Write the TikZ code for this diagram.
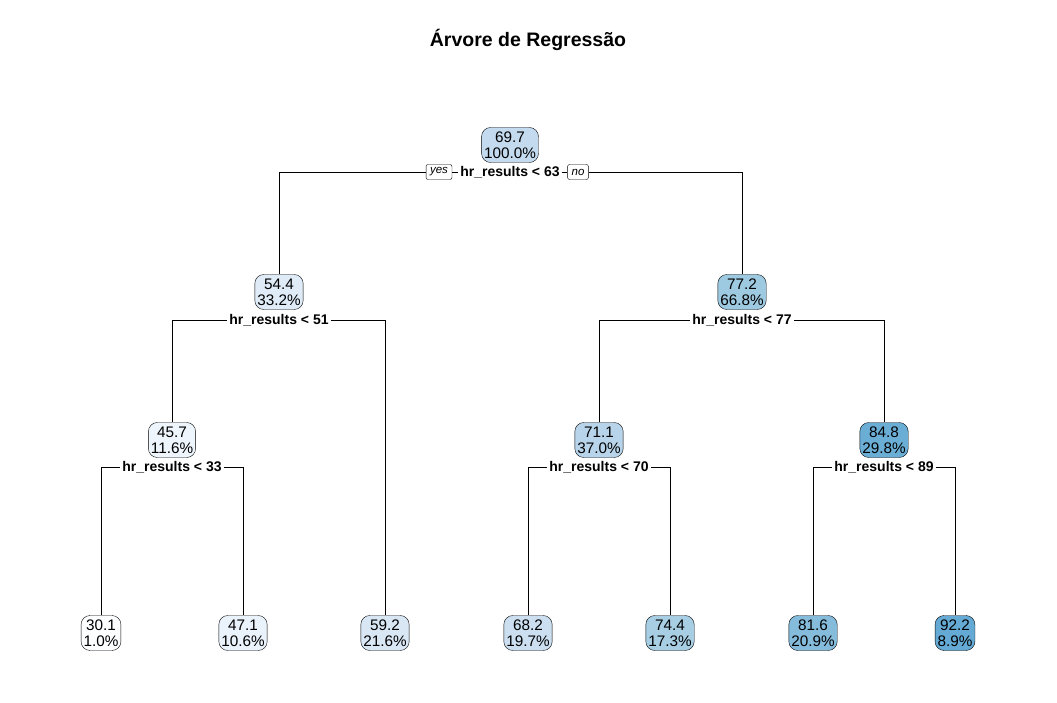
\documentclass[tikz,border=0pt]{standalone}
\usepackage{fontspec}
\setmainfont{Liberation Sans}
\definecolor{bA}{HTML}{FDFEFF}
\definecolor{bB}{HTML}{EEF5FC}
\definecolor{bC}{HTML}{EAF2FB}
\definecolor{bD}{HTML}{DFEBF7}
\definecolor{bE}{HTML}{D9E7F5}
\definecolor{bF}{HTML}{CCDFF1}
\definecolor{bG}{HTML}{C4DAEE}
\definecolor{bH}{HTML}{B7D4EA}
\definecolor{bI}{HTML}{A8CEE4}
\definecolor{bJ}{HTML}{9ECAE1}
\definecolor{bK}{HTML}{85BCDC}
\definecolor{bL}{HTML}{6AAED6}
\definecolor{bM}{HTML}{65AAD4}

\begin{document}
\begin{tikzpicture}[x=1pt,y=-1pt]
  \tikzset{box/.style={draw,rounded corners=9pt,align=center,inner xsep=2.5pt,inner ysep=3pt,
      minimum height=35pt,font=\fontsize{15.3}{16}\selectfont},
    split/.style={inner xsep=2pt,inner ysep=1pt,font=\bfseries\fontsize{14}{15}\selectfont},
    yesno/.style={draw,rounded corners=2pt,inner xsep=4pt,inner ysep=2pt,minimum height=15pt,
      font=\itshape\fontsize{11.5}{12}\selectfont},
    edge/.style={line width=0.8pt}}
  \useasboundingbox (0,0) rectangle (1057,703);
  \node[font=\bfseries\fontsize{19.5}{20}\selectfont] (title) at (528,40) {Árvore de Regressão};
  % internal nodes
  \node[box,fill=bG] (n1) at (510,145) {69.7\\100.0\%};
  \node[box,fill=bD] (n2) at (279,292) {54.4\\33.2\%};
  \node[box,fill=bJ] (n3) at (742,292) {77.2\\66.8\%};
  \node[box,fill=bB] (n4) at (172,440) {45.7\\11.6\%};
  \node[box,fill=bH] (n6) at (599,440) {71.1\\37.0\%};
  \node[box,fill=bL] (n7) at (884,440) {84.8\\29.8\%};
  % leaves
  \node[box,fill=bA] (n8) at (101,633) {30.1\\1.0\%};
  \node[box,fill=bC] (n9) at (243,633) {47.1\\10.6\%};
  \node[box,fill=bE] (n5) at (385,633) {59.2\\21.6\%};
  \node[box,fill=bF] (n12) at (528,633) {68.2\\19.7\%};
  \node[box,fill=bI] (n13) at (670,633) {74.4\\17.3\%};
  \node[box,fill=bK] (n14) at (813,633) {81.6\\20.9\%};
  \node[box,fill=bM] (n15) at (955,633) {92.2\\8.9\%};
  % split labels
  \node[split] (l1) at (510,172) {hr\_results < 63};
  \node[split] (l2) at (279,320) {hr\_results < 51};
  \node[split] (l3) at (742,320) {hr\_results < 77};
  \node[split] (l4) at (172,467) {hr\_results < 33};
  \node[split] (l6) at (599,467) {hr\_results < 70};
  \node[split] (l7) at (884,467) {hr\_results < 89};
  \node[yesno] (yes) at (439,172) {yes};
  \node[yesno] (no) at (578,172) {no};
  % connectors
  \draw[edge] (n2.north) |- (yes.west);
  \draw[edge] (yes.east) -- (l1.west);
  \draw[edge] (l1.east) -- (no.west);
  \draw[edge] (no.east) -| (n3.north);
  \draw[edge] (n4.north) |- (l2.west);
  \draw[edge] (l2.east) -| (n5.north);
  \draw[edge] (n6.north) |- (l3.west);
  \draw[edge] (l3.east) -| (n7.north);
  \draw[edge] (n8.north) |- (l4.west);
  \draw[edge] (l4.east) -| (n9.north);
  \draw[edge] (n12.north) |- (l6.west);
  \draw[edge] (l6.east) -| (n13.north);
  \draw[edge] (n14.north) |- (l7.west);
  \draw[edge] (l7.east) -| (n15.north);
\end{tikzpicture}
\end{document}
